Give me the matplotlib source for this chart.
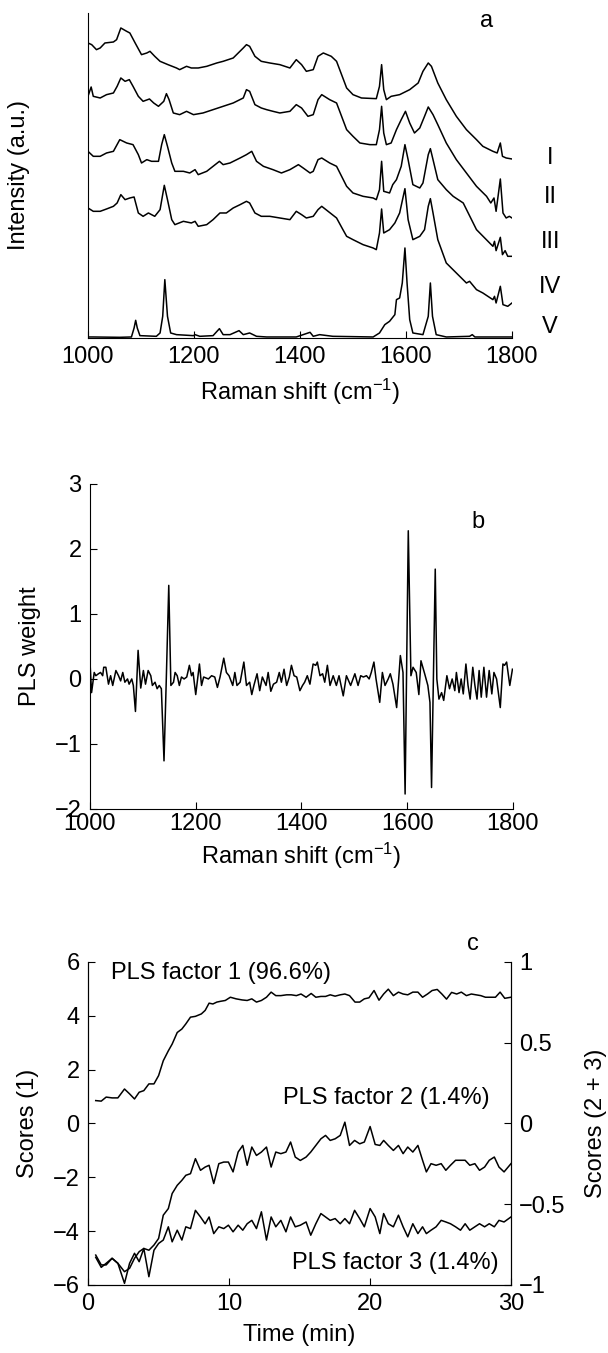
import matplotlib
matplotlib.use("Agg")
import matplotlib.pyplot as plt

plt.rcParams['font.family'] = ['Liberation Sans', 'DejaVu Sans']
plt.rcParams['mathtext.fontset'] = 'custom'
plt.rcParams['mathtext.rm'] = 'Liberation Sans'
plt.rcParams['mathtext.it'] = 'Liberation Sans:italic'

# ---------------- Panel a: Raman spectra (offset, a.u.) ----------------
spec1_x = [1000, 1007, 1016, 1023, 1032, 1048, 1054, 1062, 1073, 1079, 1089, 1101, 1111, 1117, 1126, 1136,
           1151, 1167, 1173, 1186, 1195, 1208, 1224, 1243, 1255, 1274, 1293, 1299, 1305, 1315, 1327, 1343,
           1362, 1381, 1393, 1403, 1412, 1425, 1434, 1444, 1459, 1469, 1488, 1500, 1516, 1544, 1550, 1554,
           1558, 1563, 1572, 1588, 1607, 1623, 1632, 1642, 1648, 1660, 1676, 1695, 1714, 1733, 1745, 1764,
           1772, 1778, 1782, 1789, 1800]
spec1_y = [885, 880, 865, 870, 885, 888, 895, 930, 920, 915, 885, 850, 855, 860, 845, 830,
           820, 810, 805, 815, 810, 810, 815, 825, 830, 840, 870, 880, 875, 845, 830, 825,
           820, 810, 835, 820, 800, 805, 845, 855, 845, 830, 750, 730, 720, 718, 755, 820,
           745, 715, 725, 730, 745, 765, 800, 825, 815, 765, 715, 665, 625, 595, 575, 560,
           555, 585, 545, 540, 537]

spec2_x = [1000, 1006, 1010, 1023, 1035, 1048, 1055, 1062, 1070, 1078, 1085, 1095, 1104, 1116, 1124, 1133,
           1143, 1148, 1153, 1161, 1173, 1186, 1199, 1217, 1236, 1255, 1274, 1293, 1299, 1305, 1315, 1327,
           1337, 1349, 1362, 1381, 1393, 1403, 1415, 1425, 1434, 1441, 1456, 1469, 1488, 1500, 1513, 1532,
           1544, 1550, 1554, 1558, 1563, 1572, 1582, 1591, 1599, 1607, 1616, 1626, 1635, 1642, 1651, 1660,
           1676, 1695, 1714, 1733, 1752, 1760, 1766, 1770, 1778, 1783, 1789, 1795, 1800]
spec2_y = [725, 753, 725, 720, 730, 735, 755, 780, 770, 775, 755, 725, 710, 717, 705, 695,
           710, 733, 715, 675, 670, 680, 670, 675, 685, 695, 705, 720, 745, 740, 700, 690,
           685, 680, 675, 680, 700, 690, 665, 670, 715, 730, 715, 705, 625, 605, 585, 580,
           580, 625, 695, 615, 580, 585, 625, 655, 680, 645, 615, 630, 665, 693, 670, 640,
           585, 535, 495, 455, 425, 405, 420, 380, 477, 375, 360, 365, 360]

spec3_x = [1000, 1010, 1023, 1035, 1048, 1060, 1073, 1085, 1095, 1101, 1111, 1120, 1133, 1139, 1144, 1150,
           1158, 1164, 1180, 1192, 1202, 1208, 1224, 1236, 1248, 1255, 1268, 1287, 1299, 1309, 1318, 1331,
           1349, 1365, 1381, 1397, 1406, 1419, 1425, 1434, 1441, 1456, 1469, 1488, 1500, 1519, 1538, 1544,
           1550, 1554, 1558, 1569, 1575, 1582, 1591, 1598, 1604, 1613, 1626, 1632, 1642, 1646, 1651, 1660,
           1676, 1689, 1708, 1733, 1764, 1767, 1770, 1778, 1782, 1787, 1792, 1800]
spec3_y = [560, 545, 545, 555, 560, 595, 585, 580, 550, 525, 535, 530, 530, 580, 610, 575,
           525, 500, 500, 495, 505, 490, 500, 515, 530, 520, 525, 540, 550, 560, 530, 515,
           505, 495, 505, 520, 510, 495, 500, 535, 540, 525, 515, 455, 435, 425, 420, 415,
           445, 530, 440, 435, 460, 475, 515, 580, 535, 460, 450, 465, 550, 568, 535, 475,
           445, 425, 405, 325, 275, 290, 262, 302, 250, 262, 245, 245]

spec4_x = [1000, 1010, 1023, 1035, 1048, 1055, 1062, 1070, 1079, 1087, 1095, 1104, 1114, 1126, 1136, 1144,
           1150, 1158, 1164, 1180, 1195, 1202, 1208, 1224, 1236, 1249, 1261, 1274, 1287, 1299, 1305, 1315,
           1327, 1343, 1362, 1381, 1393, 1403, 1412, 1425, 1434, 1441, 1453, 1469, 1481, 1488, 1500, 1519,
           1538, 1544, 1550, 1554, 1558, 1569, 1579, 1588, 1598, 1604, 1613, 1626, 1635, 1642, 1646, 1651,
           1660, 1676, 1695, 1714, 1720, 1733, 1745, 1764, 1767, 1770, 1778, 1783, 1792, 1800]
spec4_y = [390, 380, 380, 387, 395, 405, 430, 415, 420, 423, 375, 365, 375, 365, 385, 458,
           415, 355, 340, 350, 345, 350, 335, 340, 355, 375, 375, 390, 400, 410, 405, 375,
           365, 365, 360, 355, 380, 370, 360, 365, 385, 395, 380, 360, 325, 305, 295, 280,
           270, 265, 315, 387, 315, 325, 345, 375, 448, 355, 295, 305, 325, 395, 418, 375,
           295, 225, 195, 165, 170, 145, 135, 115, 125, 105, 155, 100, 95, 105]

spec5_x = [1000, 1010, 1060, 1082, 1087, 1090, 1093, 1098, 1129, 1136, 1141, 1145, 1150, 1156, 1167, 1199,
           1202, 1211, 1236, 1248, 1255, 1268, 1285, 1293, 1305, 1318, 1337, 1393, 1419, 1425, 1437, 1462,
           1538, 1550, 1560, 1569, 1579, 1582, 1588, 1593, 1598, 1602, 1607, 1613, 1632, 1642, 1646, 1650,
           1657, 1676, 1720, 1725, 1730, 1800]
spec5_y = [3, 3, 2, 3, 30, 53, 30, 7, 5, 15, 65, 175, 65, 15, 10, 7,
           10, 5, 7, 28, 10, 10, 22, 10, 15, 5, 3, 3, 17, 5, 10, 5,
           3, 15, 40, 50, 70, 115, 120, 165, 270, 165, 55, 15, 10, 65, 165, 65,
           10, 3, 5, 10, 3, 3]

spec_labels = ['I', 'II', 'III', 'IV', 'V']
spec_label_y = [540, 423, 288, 153, 33]

# ---------------- Panel b: PLS weight ----------------
pls_x = [1000, 1003, 1008, 1011, 1016, 1020, 1024, 1026, 1030, 1035, 1039, 1043, 1049, 1054, 1058, 1062,
         1066, 1071, 1074, 1079, 1082, 1086, 1091, 1096, 1101, 1105, 1110, 1115, 1118, 1123, 1127, 1131,
         1135, 1140, 1144, 1149, 1153, 1158, 1161, 1165, 1169, 1173, 1178, 1183, 1188, 1192, 1195, 1200,
         1207, 1211, 1215, 1224, 1230, 1236, 1241, 1246, 1253, 1258, 1263, 1270, 1274, 1278, 1284, 1291,
         1296, 1302, 1306, 1310, 1316, 1321, 1326, 1333, 1337, 1342, 1347, 1353, 1358, 1362, 1367, 1372,
         1377, 1381, 1386, 1391, 1397, 1402, 1406, 1411, 1416, 1422, 1427, 1430, 1435, 1440, 1444, 1449,
         1454, 1460, 1466, 1471, 1479, 1485, 1493, 1501, 1507, 1512, 1517, 1523, 1528, 1532, 1537, 1541,
         1548, 1553, 1558, 1564, 1568, 1573, 1580, 1587, 1592, 1596, 1602, 1607, 1611, 1617, 1622, 1626,
         1633, 1639, 1643, 1646, 1653, 1656, 1660, 1665, 1669, 1675, 1680, 1685, 1690, 1693, 1698, 1702,
         1706, 1711, 1715, 1719, 1724, 1728, 1732, 1736, 1740, 1745, 1750, 1755, 1760, 1764, 1769, 1776,
         1781, 1784, 1788, 1794, 1799]
pls_w = [0.26, -0.21, 0.10, 0.05, 0.08, 0.10, 0.05, 0.18, 0.18, -0.08, 0.05, -0.10, 0.13, 0.05, -0.03, 0.10,
         -0.05, 0.00, -0.08, 0.00, -0.10, -0.50, 0.44, -0.14, 0.13, -0.08, 0.13, 0.05, -0.10, -0.05, -0.15, -0.10,
         -0.15, -1.26, -0.10, 1.44, -0.10, -0.05, 0.10, 0.05, -0.10, 0.03, 0.00, 0.03, 0.21, 0.05, 0.10, -0.24,
         0.23, -0.10, 0.03, 0.00, 0.05, 0.03, -0.13, 0.03, 0.32, 0.10, 0.05, -0.10, 0.10, -0.10, -0.05, 0.26,
         -0.10, -0.05, -0.24, -0.10, 0.08, -0.18, 0.03, -0.10, 0.10, -0.19, -0.08, -0.05, 0.10, -0.05, 0.15, -0.10,
         0.03, 0.21, 0.05, 0.03, -0.18, -0.10, -0.05, 0.05, -0.08, 0.23, 0.21, 0.26, 0.05, 0.08, -0.05, 0.21,
         -0.10, 0.05, -0.10, 0.05, -0.26, 0.05, -0.10, 0.08, -0.10, 0.05, 0.03, 0.05, 0.00, 0.10, 0.26, 0.00,
         -0.36, 0.10, -0.10, 0.00, 0.08, -0.08, -0.44, 0.36, 0.10, -1.77, 2.28, 0.05, 0.18, 0.10, -0.24, 0.28,
         0.08, -0.10, -0.36, -1.67, 1.69, 0.00, -0.31, -0.21, -0.33, 0.05, -0.15, 0.00, -0.18, 0.10, -0.21, 0.00,
         -0.23, 0.23, -0.10, -0.31, 0.18, -0.10, -0.31, 0.13, -0.28, 0.18, -0.28, 0.13, -0.23, 0.10, 0.00, -0.44,
         0.23, 0.21, 0.26, -0.10, 0.15]

# ---------------- Panel c: PLS scores vs time ----------------
f1_t = [0.55, 0.94, 1.29, 1.71, 2.12, 2.59, 2.95, 3.30, 3.63, 3.96, 4.32, 4.68, 5.01, 5.34, 5.70, 5.97,
        6.33, 6.66, 6.94, 7.27, 7.62, 8.04, 8.31, 8.59, 8.86, 9.14, 9.41, 9.74, 10.10, 10.51, 10.93, 11.29,
        11.62, 11.95, 12.30, 12.66, 12.99, 13.32, 13.68, 14.09, 14.42, 14.78, 15.11, 15.47, 15.83, 16.16, 16.52, 16.85,
        17.18, 17.53, 17.89, 18.22, 18.55, 18.94, 19.27, 19.60, 19.93, 20.29, 20.64, 20.97, 21.30, 21.66, 22.02, 22.35,
        22.68, 23.04, 23.40, 23.73, 24.08, 24.41, 24.77, 25.10, 25.43, 25.79, 26.15, 26.48, 26.84, 27.19, 27.52, 27.86,
        28.19, 28.54, 28.90, 29.23, 29.56, 30.00]
f1_s = [0.85, 0.83, 0.98, 0.95, 0.95, 1.28, 1.10, 0.91, 1.16, 1.22, 1.47, 1.47, 1.78, 2.33, 2.70, 2.95,
        3.38, 3.51, 3.70, 3.95, 3.98, 4.07, 4.20, 4.47, 4.44, 4.51, 4.54, 4.57, 4.69, 4.63, 4.59, 4.57,
        4.63, 4.51, 4.57, 4.69, 4.88, 4.75, 4.75, 4.78, 4.78, 4.75, 4.81, 4.69, 4.83, 4.69, 4.72, 4.72,
        4.78, 4.73, 4.78, 4.81, 4.75, 4.51, 4.51, 4.63, 4.67, 4.94, 4.58, 4.81, 4.99, 4.75, 4.88, 4.81,
        4.78, 4.88, 4.88, 4.69, 4.81, 4.94, 4.98, 4.81, 4.62, 4.87, 4.81, 4.88, 4.75, 4.81, 4.78, 4.75,
        4.69, 4.69, 4.69, 4.88, 4.65, 4.69]

f23_t = [0.55, 0.94, 1.29, 1.71, 2.12, 2.59, 2.95, 3.30, 3.63, 3.96, 4.32, 4.68, 5.01, 5.34, 5.70, 5.97,
         6.33, 6.66, 6.94, 7.27, 7.62, 7.98, 8.31, 8.59, 8.92, 9.28, 9.63, 9.96, 10.29, 10.65, 10.98, 11.29,
         11.62, 11.95, 12.30, 12.66, 12.99, 13.32, 13.68, 14.04, 14.37, 14.70, 15.06, 15.47, 15.80, 16.16, 16.52, 16.85,
         17.18, 17.53, 17.89, 18.22, 18.55, 18.91, 19.27, 19.60, 20.01, 20.37, 20.70, 20.97, 21.30, 21.66, 22.02, 22.35,
         22.68, 23.04, 23.40, 23.73, 24.00, 24.33, 24.69, 25.05, 25.38, 25.71, 26.07, 26.42, 26.75, 27.08, 27.44, 27.77,
         28.13, 28.46, 28.82, 29.15, 29.51, 30.00]
f2_s = [-0.815, -0.876, -0.876, -0.835, -0.866, -0.918, -0.897, -0.835, -0.794, -0.774, -0.785, -0.753, -0.712, -0.568, -0.527, -0.434,
        -0.383, -0.352, -0.321, -0.311, -0.218, -0.290, -0.270, -0.259, -0.372, -0.249, -0.239, -0.239, -0.300, -0.177, -0.136, -0.259,
        -0.146, -0.198, -0.177, -0.146, -0.270, -0.177, -0.187, -0.177, -0.115, -0.208, -0.229, -0.208, -0.177, -0.136, -0.095, -0.074,
        -0.105, -0.095, -0.074, 0.008, -0.136, -0.105, -0.126, -0.115, -0.019, -0.130, -0.136, -0.105, -0.136, -0.167, -0.136, -0.187,
        -0.146, -0.177, -0.136, -0.228, -0.300, -0.249, -0.259, -0.249, -0.290, -0.259, -0.228, -0.228, -0.228, -0.259, -0.249, -0.290,
        -0.270, -0.228, -0.208, -0.270, -0.300, -0.249]
f3_s = [-0.829, -0.891, -0.866, -0.835, -0.866, -0.990, -0.866, -0.804, -0.856, -0.774, -0.949, -0.785, -0.743, -0.722, -0.640, -0.733,
        -0.661, -0.722, -0.640, -0.651, -0.538, -0.579, -0.621, -0.579, -0.682, -0.640, -0.651, -0.630, -0.671, -0.630, -0.661, -0.621,
        -0.600, -0.651, -0.547, -0.722, -0.579, -0.640, -0.600, -0.671, -0.579, -0.640, -0.630, -0.610, -0.692, -0.621, -0.558, -0.579,
        -0.600, -0.589, -0.621, -0.589, -0.621, -0.538, -0.589, -0.640, -0.527, -0.579, -0.682, -0.558, -0.621, -0.640, -0.568, -0.640,
        -0.702, -0.621, -0.682, -0.640, -0.682, -0.661, -0.640, -0.600, -0.610, -0.621, -0.640, -0.661, -0.621, -0.661, -0.640, -0.621,
        -0.640, -0.621, -0.640, -0.600, -0.610, -0.579]

factor_labels = ['PLS factor 1 (96.6%)', 'PLS factor 2 (1.4%)', 'PLS factor 3 (1.4%)']

raman_ticks = [1000, 1200, 1400, 1600, 1800]
pls_ticks = [-2, -1, 0, 1, 2, 3]
time_ticks = [0, 10, 20, 30]
score1_ticks = [-6, -4, -2, 0, 2, 4, 6]
score23_ticks = [-1, -0.5, 0, 0.5, 1]

FS = 17
LW = 1.1

fig = plt.figure(figsize=(6.08, 13.53), dpi=100)


def style(ax):
    ax.tick_params(direction='in', length=5, width=0.8, labelsize=FS, pad=6)
    for s in ax.spines.values():
        s.set_linewidth(0.8)


# Panel a
ax_a = fig.add_axes([0.1447, 0.7502, 0.6974, 0.2402])
for xs, ys in [(spec1_x, spec1_y), (spec2_x, spec2_y), (spec3_x, spec3_y),
               (spec4_x, spec4_y), (spec5_x, spec5_y)]:
    ax_a.plot(xs, ys, color='black', lw=LW)
ax_a.set_xlim(1000, 1800)
ax_a.set_ylim(0, 975)
ax_a.set_xticks(raman_ticks)
ax_a.set_yticks([])
ax_a.spines['top'].set_visible(False)
ax_a.spines['right'].set_visible(False)
style(ax_a)
ax_a.set_xlabel('Raman shift (cm$^{-1}$)', fontsize=FS, labelpad=6)
ax_a.set_ylabel('Intensity (a.u.)', fontsize=FS, labelpad=42)
for lab, yv in zip(spec_labels, spec_label_y):
    ax_a.text(1872, yv, lab, fontsize=FS, ha='center', va='center', clip_on=False)
ax_a.text(1752, 950, 'a', fontsize=FS, ha='center', va='center')

# Panel b
ax_b = fig.add_axes([0.1480, 0.4021, 0.6957, 0.2402])
ax_b.plot(pls_x, pls_w, color='black', lw=LW)
ax_b.set_xlim(1000, 1800)
ax_b.set_ylim(-2, 3)
ax_b.set_xticks(raman_ticks)
ax_b.set_yticks(pls_ticks)
ax_b.spines['top'].set_visible(False)
ax_b.spines['right'].set_visible(False)
style(ax_b)
ax_b.tick_params(axis='x', pad=3)
ax_b.set_xlabel('Raman shift (cm$^{-1}$)', fontsize=FS, labelpad=4)
ax_b.set_ylabel('PLS weight', fontsize=FS, labelpad=10)
ax_b.text(1734, 2.41, 'b', fontsize=FS, ha='center', va='center')

# Panel c
ax_c = fig.add_axes([0.1447, 0.0503, 0.6957, 0.2387])
ax_c.plot(f1_t, f1_s, color='black', lw=LW)
ax_c.set_xlim(0, 30)
ax_c.set_ylim(-6, 6)
ax_c.set_xticks(time_ticks)
ax_c.set_yticks(score1_ticks)
ax_c.spines['top'].set_visible(False)
style(ax_c)
ax_c.set_xlabel('Time (min)', fontsize=FS, labelpad=6)
ax_c.set_ylabel('Scores (1)', fontsize=FS, labelpad=10)

ax_c2 = ax_c.twinx()
ax_c2.plot(f23_t, f2_s, color='black', lw=LW)
ax_c2.plot(f23_t, f3_s, color='black', lw=LW)
ax_c2.set_ylim(-1, 1)
ax_c2.set_yticks(score23_ticks)
ax_c2.set_yticklabels(['\u22121', '\u22120.5', '0', '0.5', '1'])
ax_c2.spines['top'].set_visible(False)
style(ax_c2)
ax_c2.set_ylabel('Scores (2 + 3)', fontsize=FS, labelpad=14)

ax_c.text(1.65, 5.6, factor_labels[0], fontsize=FS, ha='left', va='center')
ax_c.text(28.5, 0.95, factor_labels[1], fontsize=FS, ha='right', va='center')
ax_c.text(29.1, -5.17, factor_labels[2], fontsize=FS, ha='right', va='center')
ax_c.text(27.3, 6.65, 'c', fontsize=FS, ha='center', va='center', clip_on=False)

fig.savefig('out.png', dpi=100)
